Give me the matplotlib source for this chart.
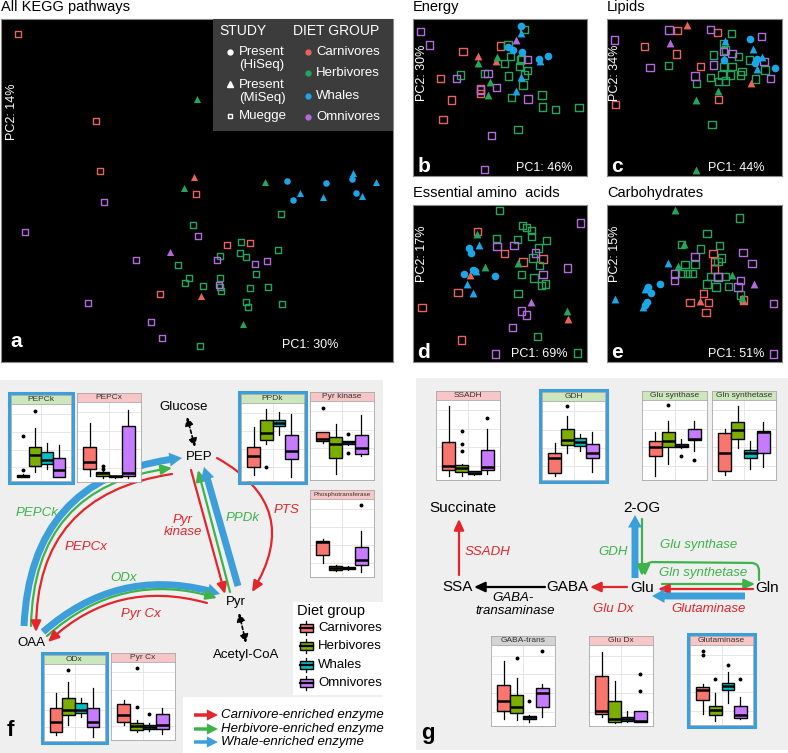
import matplotlib.pyplot as plt
from matplotlib.lines import Line2D
from matplotlib.patches import FancyArrowPatch, Rectangle

plt.rcParams["font.family"] = ["Liberation Sans", "DejaVu Sans"]

W, H = 788, 753

groups = ["C", "H", "W", "O"]
group_names = ["Carnivores", "Herbivores", "Whales", "Omnivores"]
dot_colors = ["#E8645A", "#23A65B", "#1BA6E8", "#B46ADC"]
box_colors = ["#F8766D", "#7CAE00", "#00BFC4", "#C77CFF"]

RED = "#E3262B"
GREEN = "#3DB34A"
BLUE = "#3D9FDA"
PINK_STRIP = "#F8C6C6"
GREEN_STRIP = "#CDE7BD"
GRAY_STRIP = "#D3D3D3"

# PCA scores: (diet group, study, [(PC1, PC2), ...])
# study: "hi" = Present (HiSeq), "mi" = Present (MiSeq), "mu" = Muegge
pca_a = [
    ("C", "mu", [(-53.6, 49.7), (-30.3, 23.7), (-28.9, 8.8), (-0.1, 1.8), (9.0, -13.4),
                 (16.0, -12.8), (-10.9, -28.2)]),
    ("H", "mu", [(25.2, -4.1), (-1.0, -7.5), (13.3, -12.7), (13.0, -16.0), (14.8, -17.0),
                 (24.5, -14.9), (6.9, -16.7), (-5.5, -19.6), (-2.2, -23.4), (-3.5, -24.8),
                 (2.0, -25.7), (7.0, -23.4), (7.0, -26.2), (7.2, -27.3), (17.8, -22.1),
                 (16.0, -26.4), (21.3, -26.1), (14.7, -30.5), (15.3, -32.2), (25.5, -31.3),
                 (1.0, -43.8)]),
    ("O", "mu", [(-51.5, -9.7), (-27.7, -0.6), (0.4, -10.7), (-18.1, -18.0), (6.0, -18.0),
                 (17.6, -19.3), (21.2, -18.4), (6.7, -25.5), (-32.5, -31.0), (-13.7, -36.6),
                 (-10.3, -41.5)]),
    ("C", "mi", [(-0.8, 6.8), (1.3, -28.8)]),
    ("H", "mi", [(0.0, 30.3), (-3.8, 3.7), (20.5, 5.5), (14.0, -37.2)]),
    ("O", "mi", [(-7.9, -15.5)]),
    ("W", "hi", [(27.2, 5.7), (29.0, 0.0), (38.9, 5.2), (46.5, 6.2), (47.8, 2.2)]),
    ("W", "mi", [(46.8, 8.0), (31.0, 2.0), (38.0, 1.0), (49.7, 1.3), (53.8, 5.5)]),
]

pca_b = [
    ("C", "mu", [(15.0, 37.2), (8.2, 29.1), (26.3, 38.9), (11.5, 22.7), (9.0, 16.9),
                 (20.2, 26.0), (20.2, 24.7)]),
    ("H", "mu", [(33.3, 43.9), (14.2, 30.2), (28.5, 39.2), (29.3, 35.7), (27.5, 33.7),
                 (32.3, 34.7), (32.0, 32.7), (34.3, 31.5), (33.5, 30.2), (28.7, 29.9),
                 (21.5, 30.7), (33.0, 27.2), (29.5, 23.5), (38.7, 24.2), (38.8, 20.7),
                 (42.7, 20.0), (49.8, 20.6), (31.5, 13.9), (32.5, 35.2)]),
    ("O", "mu", [(2.2, 43.2), (5.0, 39.2), (13.0, 29.2), (22.5, 30.7), (25.0, 26.5),
                 (20.2, 25.7), (34.3, 34.9), (34.5, 23.0), (23.5, 12.2), (21.5, 1.9)]),
    ("C", "mi", [(19.5, 36.0), (24.8, 34.4)]),
    ("H", "mi", [(19.5, 33.7), (25.3, 35.5), (23.0, 28.0), (22.5, 24.2)]),
    ("O", "mi", [(30.8, 40.7)]),
    ("W", "hi", [(32.3, 45.0), (28.5, 38.7), (30.0, 37.7), (32.8, 37.2), (40.5, 35.9),
                 (37.7, 34.9)]),
    ("W", "mi", [(32.5, 42.9), (38.0, 34.4), (32.5, 29.7), (31.0, 25.5)]),
]

pca_c = [
    ("C", "mu", [(21.1, 43.5), (32.9, 42.9), (11.1, 38.7), (20.8, 36.5), (27.8, 32.7),
                 (33.3, 22.9), (2.6, 21.5)]),
    ("H", "mu", [(37.1, 42.7), (34.8, 39.7), (35.3, 37.7), (31.8, 36.2), (39.3, 35.7),
                 (42.6, 34.7), (18.3, 33.0), (37.3, 32.7), (34.8, 32.7), (30.8, 29.5),
                 (34.3, 30.2), (36.8, 30.2), (40.3, 31.2), (39.8, 30.2), (44.3, 29.0),
                 (33.3, 28.2), (35.3, 28.4), (26.6, 27.7), (47.1, 31.7), (31.3, 15.5)]),
    ("O", "mu", [(18.5, 43.7), (30.8, 43.9), (46.0, 41.7), (2.3, 40.7), (34.8, 37.2),
                 (37.3, 36.7), (31.8, 33.2), (12.8, 32.5), (26.3, 29.9), (46.8, 34.2),
                 (48.8, 29.2)]),
    ("C", "mi", [(23.8, 45.2), (43.0, 27.7)]),
    ("H", "mi", [(34.8, 35.2), (33.1, 25.5), (26.6, 22.7), (26.6, 1.7)]),
    ("O", "mi", [(18.8, 39.7)]),
    ("W", "hi", [(42.8, 41.0), (35.0, 34.7), (44.0, 33.9), (44.8, 34.9), (50.0, 32.4)]),
    ("W", "mi", [(35.3, 40.5), (43.5, 37.9), (46.3, 35.7), (44.8, 31.9)]),
]

pca_d = [
    ("C", "mu", [(19.3, 39.1), (27.5, 32.4), (33.0, 29.9), (39.0, 30.8), (13.5, 20.9),
                 (2.7, 16.4), (14.5, 6.6)]),
    ("H", "mu", [(26.0, 45.3), (32.8, 40.8), (34.0, 40.3), (35.5, 39.3), (35.5, 37.6),
                 (25.0, 36.9), (31.3, 36.6), (40.0, 36.4), (37.7, 34.1), (36.0, 31.1),
                 (38.0, 28.9), (32.5, 26.1), (36.3, 25.1), (38.5, 22.9), (39.7, 23.4),
                 (31.5, 20.6), (37.3, 7.6), (49.4, 2.7)]),
    ("O", "mu", [(50.3, 41.6), (25.2, 34.6), (30.3, 34.8), (36.8, 32.6), (39.0, 26.1),
                 (46.3, 28.1), (32.5, 15.3), (34.0, 14.1), (29.8, 10.3), (24.8, 2.4)]),
    ("C", "mi", [(17.0, 25.9), (46.5, 12.8)]),
    ("H", "mi", [(19.3, 38.4), (21.7, 28.4), (31.5, 29.6), (46.2, 15.4)]),
    ("O", "mi", [(35.5, 18.1)]),
    ("W", "hi", [(16.7, 34.1), (17.3, 32.6), (18.0, 27.6), (18.5, 27.1), (15.3, 26.4),
                 (24.7, 25.6)]),
    ("W", "mi", [(19.8, 34.9), (19.0, 27.1), (16.3, 23.3), (18.0, 20.6)]),
]

pca_e = [
    ("C", "mu", [(31.6, 32.4), (32.0, 30.1), (32.1, 27.8), (28.8, 20.6), (24.8, 17.8),
                 (30.3, 17.8), (29.5, 14.8), (40.8, 18.6)]),
    ("H", "mu", [(39.6, 43.1), (29.8, 38.4), (33.6, 34.9), (27.8, 33.8), (22.3, 35.1),
                 (23.3, 29.1), (26.3, 29.1), (22.6, 26.4), (24.1, 26.4), (25.6, 26.4),
                 (34.1, 31.1), (33.1, 30.1), (30.8, 25.6), (33.1, 25.6), (35.3, 25.6),
                 (29.8, 23.4), (32.5, 22.4), (36.3, 22.6), (39.8, 20.1)]),
    ("O", "mu", [(26.3, 31.6), (40.6, 32.8), (43.3, 29.4), (20.1, 26.3), (20.1, 24.4),
                 (33.1, 25.4), (39.8, 24.4), (39.1, 22.4), (49.6, 17.6), (49.7, 2.4)]),
    ("C", "mi", [(27.8, 18.3), (40.5, 18.6)]),
    ("H", "mi", [(20.3, 45.6), (23.1, 35.3), (21.1, 28.6), (37.3, 26.1), (40.3, 19.1)]),
    ("O", "mi", [(43.8, 23.4)]),
    ("W", "hi", [(15.8, 23.4), (12.3, 22.4), (13.1, 20.6), (11.8, 18.1), (11.3, 17.1)]),
    ("W", "mi", [(18.3, 29.6), (2.3, 18.8), (10.8, 16.6), (11.3, 21.8)]),
]

# box stats per diet group (Carnivores, Herbivores, Whales, Omnivores):
# [whisker low, q1, median, q3, whisker high], outliers separately
pepck_box = [[0.15, 0.2, 0.35, 0.5, 0.55], [0.8, 1.7, 3.3, 4.3, 7.0],
             [1.3, 2.0, 2.5, 3.6, 4.9], [0.2, 0.2, 1.2, 2.8, 4.7]]
pepck_out = [[1.2, 5.9], [9.4], [], []]
pepcx_box = [[0.4, 1.3, 2.3, 4.3, 7.6], [0.2, 0.35, 0.8, 0.95, 1.5],
             [0.2, 0.25, 0.35, 0.4, 0.45], [0.2, 0.45, 0.8, 7.2, 9.3]]
pepcx_out = [[], [1.4, 1.7], [], []]
ppdk_box = [[0.4, 1.6, 3.0, 4.3, 7.1], [4.7, 5.3, 6.2, 8.0, 9.6],
            [6.0, 7.2, 7.7, 8.1, 9.1], [0.1, 2.7, 3.8, 6.0, 8.9]]
ppdk_out = [[], [1.6], [], []]
pyrk_box = [[4.7, 4.9, 5.2, 6.1, 6.1], [0.4, 2.6, 4.5, 5.5, 7.2],
            [4.4, 4.5, 4.8, 5.0, 5.0], [2.9, 3.2, 4.0, 5.7, 8.5]]
pyrk_out = [[9.4], [], [5.9, 3.3], []]
pts_box = [[1.6, 2.7, 4.5, 4.6, 4.8], [0.5, 0.55, 0.85, 1.1, 1.2],
           [0.6, 0.7, 0.8, 0.95, 1.1], [0.35, 1.3, 1.9, 3.7, 6.0]]
pts_out = [[], [], [], [9.5]]
odx_box = [[0.4, 0.9, 2.3, 4.2, 6.4], [1.8, 3.3, 4.0, 5.7, 7.9],
           [2.9, 3.5, 4.0, 4.9, 5.7], [0.2, 1.5, 2.3, 4.2, 7.0]]
odx_out = [[], [9.5], [], []]
pyrcx_box = [[1.7, 2.1, 3.0, 4.6, 5.1], [0.7, 1.0, 1.5, 1.9, 2.4],
             [0.8, 1.1, 1.4, 1.7, 2.0], [0.4, 1.1, 1.7, 3.2, 4.1]]
pyrcx_out = [[], [9.6, 4.2], [3.2], []]

ssadh_box = [[0.2, 0.9, 1.5, 4.7, 9.6], [0.2, 0.65, 1.2, 1.6, 1.7],
             [0.3, 0.45, 0.6, 0.75, 0.8], [0.4, 0.9, 1.3, 3.6, 6.5]]
ssadh_out = [[], [6.2, 4.5, 3.5], [], [8.0]]
gdh_box = [[0.2, 0.55, 2.6, 3.3, 4.7], [3.3, 4.4, 5.1, 6.6, 8.3],
           [3.6, 4.2, 4.8, 5.3, 5.9], [0.65, 2.6, 3.3, 4.5, 6.1]]
gdh_out = [[], [9.7], [], []]
glus_box = [[0.2, 2.8, 4.0, 4.8, 6.1], [1.7, 4.1, 4.9, 6.1, 7.6],
            [3.9, 4.0, 4.2, 4.4, 5.1], [3.5, 5.0, 5.2, 6.5, 7.6]]
glus_out = [[], [9.7], [2.8], [2.3]]
glns_box = [[0.3, 0.75, 3.2, 5.9, 6.5], [3.9, 5.1, 6.3, 7.4, 9.6],
            [1.1, 2.6, 3.2, 3.7, 4.8], [1.3, 3.2, 6.1, 6.2, 7.4]]
glns_out = [[], [], [], []]
gabat_box = [[0.6, 1.65, 2.9, 5.1, 8.3], [0.35, 1.4, 2.1, 3.7, 6.0],
             [0.2, 0.5, 0.8, 1.0, 1.1], [0.8, 2.2, 4.0, 4.7, 5.2]]
gabat_out = [[], [8.7], [2.9], [9.6]]
gludx_box = [[0.8, 1.2, 1.65, 6.3, 9.5], [0.05, 0.15, 0.55, 3.0, 5.6],
             [0.1, 0.25, 0.55, 0.8, 1.6], [0.1, 0.15, 0.25, 1.6, 1.6]]
gludx_out = [[], [], [], [6.6, 4.3]]
glutam_box = [[1.1, 3.0, 4.3, 4.7, 5.2], [0.1, 0.9, 1.6, 2.2, 3.9],
              [2.6, 4.3, 4.8, 5.3, 6.7], [0.35, 0.55, 1.0, 2.2, 3.4]]
glutam_out = [[9.6, 9.0], [5.8], [7.7], [5.8]]


fig = plt.figure(figsize=(W / 100, H / 100), dpi=100)

# background layer in pixel coordinates (y down)
bg = fig.add_axes([0, 0, 1, 1])
bg.set_xlim(0, W)
bg.set_ylim(H, 0)
bg.axis("off")


def px_axes(x0, y0, x1, y1):
    return fig.add_axes([x0 / W, 1 - y1 / H, (x1 - x0) / W, (y1 - y0) / H])


def text(x, y, s, size=9.5, color="black", style="normal", ha="center", **kw):
    bg.text(x, y, s, fontsize=size, color=color, style=style, ha=ha, va="center", **kw)


def arrow(p0, p1, color, rad=0.0, thick=False, lw=1.6, ls="-", style=None, conn=None):
    if thick:
        a = FancyArrowPatch(p0, p1, arrowstyle="simple,head_length=0.9,head_width=1.0,tail_width=0.5",
                            connectionstyle=f"arc3,rad={rad}", mutation_scale=10,
                            facecolor=color, edgecolor="none", shrinkA=0, shrinkB=0)
    else:
        a = FancyArrowPatch(p0, p1, arrowstyle=style or "-|>,head_length=0.65,head_width=0.3",
                            connectionstyle=conn or f"arc3,rad={rad}", mutation_scale=10,
                            color=color, linewidth=lw, linestyle=ls, shrinkA=0, shrinkB=0)
    bg.add_patch(a)


def pca_panel(box, data, xlim, ylim, sizes, pc1, pc1_x, pc2, pc2_pos, letter, title):
    ax = px_axes(*box)
    ax.set_facecolor("black")
    for grp, src, pts in data:
        c = dot_colors[groups.index(grp)]
        xs = [p[0] for p in pts]
        ys = [p[1] for p in pts]
        if src == "mu":
            ax.scatter(xs, ys, s=sizes[0], marker="s", facecolors="none", edgecolors=c, linewidths=1.0)
        elif src == "mi":
            ax.scatter(xs, ys, s=sizes[1], marker="^", color=c, linewidths=0)
        else:
            ax.scatter(xs, ys, s=sizes[2], marker="o", color=c, linewidths=0)
    ax.set_xlim(*xlim)
    ax.set_ylim(*ylim)
    ax.set_xticks([])
    ax.set_yticks([])
    for s in ax.spines.values():
        s.set_color("#8a8a8a")
        s.set_linewidth(0.8)
    ax.text(pc1_x, 0.05, pc1, transform=ax.transAxes, ha="right", va="center", color="white", fontsize=9)
    ax.text(pc2_pos[0], pc2_pos[1], pc2, transform=ax.transAxes, ha="center", va="center",
            color="white", fontsize=9, rotation=90)
    ax.text(0.025, 0.06, letter, transform=ax.transAxes, ha="left", va="center", color="white",
            fontsize=15, fontweight="bold")
    text(box[0], box[1] - 12, title, size=10.5, ha="left")
    return ax


def inset(x0, y0, x1, y1, name, strip, stats_box, stats_out, blue=False, fs=6):
    st = px_axes(x0, y0, x1, y0 + 9)
    st.set_facecolor(strip)
    st.set_xticks([])
    st.set_yticks([])
    for s in st.spines.values():
        s.set_color("#A8A8A8")
        s.set_linewidth(0.6)
    st.text(0.5, 0.45, name, transform=st.transAxes, ha="center", va="center",
            fontsize=fs, color="#333333")
    ax = px_axes(x0, y0 + 9, x1, y1)
    stats = [dict(whislo=b[0], q1=b[1], med=b[2], q3=b[3], whishi=b[4], fliers=o)
             for b, o in zip(stats_box, stats_out)]
    res = ax.bxp(stats, positions=[1, 2, 3, 4], widths=1.0, patch_artist=True, showcaps=False,
                 manage_ticks=False,
                 boxprops=dict(linewidth=1.0, edgecolor="black"),
                 medianprops=dict(color="black", linewidth=1.8),
                 whiskerprops=dict(color="black", linewidth=0.9),
                 flierprops=dict(marker="o", markersize=1.8, markerfacecolor="black",
                                 markeredgecolor="black"))
    for p, c in zip(res["boxes"], box_colors):
        p.set_facecolor(c)
    ax.set_xlim(0.0, 5.0)
    ax.set_ylim(-0.4, 10.4)
    ax.set_xticks([2.5])
    ax.set_yticks([1.5, 4.0, 6.5, 9.0])
    ax.grid(True, color="#E3E3E3", linewidth=0.6)
    ax.set_axisbelow(True)
    ax.tick_params(length=0, labelbottom=False, labelleft=False)
    for s in ax.spines.values():
        s.set_color("#A8A8A8")
        s.set_linewidth(0.6)
    if blue:
        fig.add_artist(Rectangle((x0 - 2, y0 - 2), x1 - x0 + 4, y1 - y0 + 4, transform=bg.transData,
                                 fill=False, edgecolor=BLUE, linewidth=2.2))


# ---- grey backgrounds of panels f and g
bg.add_patch(Rectangle((0, 380), 383, 373, facecolor="#EFEFEF", edgecolor="none"))
bg.add_patch(Rectangle((293, 602), 90, 93, facecolor="white", edgecolor="none"))
bg.add_patch(Rectangle((183, 697), 212, 56, facecolor="white", edgecolor="none"))
bg.add_patch(Rectangle((416, 378), 372, 372, facecolor="#EFEFEF", edgecolor="none"))

# ---- PCA panels
pca_panel((1, 19, 393, 362), pca_a, (-58.7, 58.9), (-48.6, 54.3), (18, 26, 22),
          "PC1: 30%", 0.86, "PC2: 14%", (0.028, 0.73), "a", "All KEGG pathways")
pca_panel((413, 19, 587, 176), pca_b, (0, 52.2), (0, 47.0), (28, 32, 30),
          "PC1: 46%", 0.915, "PC2: 30%", (0.052, 0.66), "b", "Energy")
pca_panel((607, 19, 782, 176), pca_c, (0, 52.2), (0, 47.0), (28, 32, 30),
          "PC1: 44%", 0.90, "PC2: 34%", (0.046, 0.66), "c", "Lipids")
pca_panel((413, 205, 587, 362), pca_d, (0, 52.2), (0, 47.0), (28, 32, 30),
          "PC1: 69%", 0.89, "PC2: 17%", (0.052, 0.69), "d", "Essential amino  acids")
pca_panel((607, 205, 782, 362), pca_e, (0, 52.2), (0, 47.0), (28, 32, 30),
          "PC1: 51%", 0.90, "PC2: 15%", (0.046, 0.69), "e", "Carbohydrates")

# legend of panel a (drawn on top of the axes)
fig.add_artist(Rectangle((213, 19), 180, 112, transform=bg.transData, facecolor="#3C3C3C",
                         edgecolor="none"))


def ftext(x, y, s, size=9.5):
    fig.text(x / W, 1 - y / H, s, va="center", ha="left", color="white", fontsize=size)


def fmark(x, y, marker, color, size, fill=True):
    fig.add_artist(Line2D([x], [y], marker=marker, linestyle="none", markersize=size,
                          markerfacecolor=color if fill else "none", markeredgecolor=color,
                          markeredgewidth=1.0, transform=bg.transData))


ftext(219, 31, "STUDY", 10)
ftext(293, 31, "DIET GROUP", 10)
fmark(230, 52, "o", "white", 3.5)
ftext(239, 52, "Present")
ftext(239, 65, "(HiSeq)")
fmark(230, 84, "^", "white", 4)
ftext(239, 85, "Present")
ftext(239, 98, "(MiSeq)")
fmark(230, 116, "s", "white", 3.2, fill=False)
ftext(239, 116, "Muegge")
for i, name in enumerate(group_names):
    y = [52, 73, 96, 117][i]
    fmark(308, y, "o", dot_colors[i], 3.5)
    ftext(316, y, name)

# ---- panel f: insets
inset(11, 395, 71, 481, "PEPCk", GREEN_STRIP, pepck_box, pepck_out, blue=True)
inset(77, 393, 141, 482, "PEPCx", PINK_STRIP, pepcx_box, pepcx_out)
inset(241, 394, 304, 481, "PPDk", GREEN_STRIP, ppdk_box, ppdk_out, blue=True)
inset(310, 392, 374, 480, "Pyr kinase", PINK_STRIP, pyrk_box, pyrk_out)
inset(310, 490, 374, 577, "Phosphotransferase", PINK_STRIP, pts_box, pts_out, fs=4.6)
inset(44, 655, 105, 741, "ODx", GREEN_STRIP, odx_box, odx_out, blue=True)
inset(111, 653, 175, 740, "Pyr Cx", PINK_STRIP, pyrcx_box, pyrcx_out)

# panel f: metabolites
text(184, 407, "Glucose")
text(199, 457, "PEP")
text(236, 602, "Pyr")
text(31, 643, "OAA")
text(246, 655, "Acetyl-CoA")

# panel f: enzyme arrows
arrow((24, 626), (182, 458), BLUE, rad=-0.43, thick=True)
arrow((31, 626), (172, 468), GREEN, rad=-0.43)
arrow((172, 474), (36, 632), RED, rad=0.43)
arrow((43, 632), (220, 594), BLUE, rad=-0.28, thick=True)
arrow((47, 636), (217, 598), GREEN, rad=-0.28)
arrow((207, 603), (48, 642), RED, rad=0.28)
arrow((191, 470), (225, 594), RED)
arrow((230, 592), (198, 470), GREEN)
arrow((238, 586), (204, 467), BLUE, thick=True)
arrow((217, 458), (252, 592), RED, rad=-0.52)
arrow((187, 417), (195, 447), "black", lw=1.2, ls=(0, (2, 1.5)),
      style="<|-|>,head_length=0.5,head_width=0.25")
arrow((239, 613), (246, 643), "black", lw=1.2, ls=(0, (2, 1.5)),
      style="<|-|>,head_length=0.5,head_width=0.25")

text(37, 513, "PEPCk", color=GREEN, style="italic")
text(86, 547, "PEPCx", color=RED, style="italic")
text(183, 526, "Pyr\nkinase", color=RED, style="italic", linespacing=1.05)
text(243, 518, "PPDk", color=GREEN, style="italic")
text(287, 510, "PTS", color=RED, style="italic")
text(124, 578, "ODx", color=GREEN, style="italic")
text(141, 614, "Pyr Cx", color=RED, style="italic")
text(10, 731, "f", size=16, fontweight="bold")

# panel f: legends
text(297, 611, "Diet group", size=10.5, ha="left")
for i, name in enumerate(group_names):
    y = [628, 646, 665, 683][i]
    bg.add_patch(Rectangle((300, y - 4), 13, 8, facecolor=box_colors[i], edgecolor="black", lw=1.0))
    bg.plot([300, 313], [y, y], color="black", lw=1.6)
    bg.plot([306.5, 306.5], [y - 7, y - 4], color="black", lw=0.9)
    bg.plot([306.5, 306.5], [y + 4, y + 7], color="black", lw=0.9)
    text(318, y, name, ha="left")

for i, (c, lab) in enumerate([(RED, "Carnivore-enriched enzyme"), (GREEN, "Herbivore-enriched enzyme"),
                              (BLUE, "Whale-enriched enzyme")]):
    y = [715, 729, 742][i]
    bg.add_patch(FancyArrowPatch((194, y), (218, y),
                                 arrowstyle="simple,head_length=0.8,head_width=0.8,tail_width=0.25",
                                 mutation_scale=10, facecolor=c, edgecolor="none",
                                 shrinkA=0, shrinkB=0))
    text(221, y, lab, style="italic", ha="left")

# ---- panel g: insets
inset(436, 391, 500, 480, "SSADH", PINK_STRIP, ssadh_box, ssadh_out)
inset(542, 392, 605, 480, "GDH", GREEN_STRIP, gdh_box, gdh_out, blue=True)
inset(642, 391, 707, 480, "Glu synthase", GREEN_STRIP, glus_box, glus_out)
inset(712, 391, 776, 480, "Gln synthetase", GREEN_STRIP, glns_box, glns_out)
inset(491, 636, 555, 726, "GABA-trans", GRAY_STRIP, gabat_box, gabat_out)
inset(589, 636, 653, 726, "Glu Dx", PINK_STRIP, gludx_box, gludx_out)
inset(690, 636, 753, 725, "Glutaminase", PINK_STRIP, glutam_box, glutam_out, blue=True)

# panel g: metabolites
text(463, 508, "Succinate", size=11)
text(642, 508, "2-OG", size=11)
text(458, 587, "SSA", size=11)
text(567, 587, "GABA", size=11)
text(642, 588, "Glu", size=11)
text(767, 588, "Gln", size=11)

# panel g: arrows
arrow((459, 575), (459, 519), RED)
arrow((545, 587), (474, 587), "black")
arrow((627, 587), (590, 587), RED)
arrow((635, 578), (635, 515), BLUE, thick=True)
arrow((642, 519), (642, 576), GREEN)
arrow((759, 580), (645, 576), GREEN,
      conn="arc,angleA=90,angleB=90,armA=17,armB=14,rad=8")
arrow((662, 584), (755, 584), GREEN)
arrow((753, 589), (658, 589), RED)
arrow((745, 596), (652, 596), BLUE, thick=True)

text(465, 552, "SSADH", color=RED, style="italic", ha="left")
text(613, 552, "GDH", color=GREEN, style="italic")
text(699, 545, "Glu synthase", color=GREEN, style="italic")
text(703, 573, "Gln synthetase", color=GREEN, style="italic")
text(513, 598, "GABA-", style="italic")
text(515, 611, "transaminase", style="italic")
text(613, 609, "Glu Dx", color=RED, style="italic")
text(709, 609, "Glutaminase", color=RED, style="italic")
text(428, 733, "g", size=16, fontweight="bold")

fig.savefig("out.png", dpi=100)
